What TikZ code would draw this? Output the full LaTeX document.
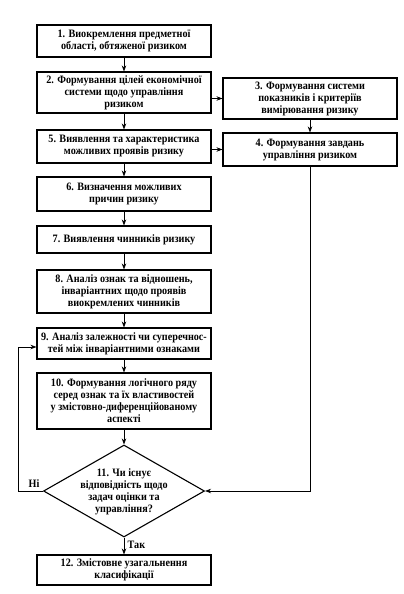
\documentclass[tikz,border=0pt]{standalone}
\usepackage{fontspec}
\setmainfont[FakeStretch=0.9]{Liberation Serif}
\usetikzlibrary{shapes.geometric,arrows.meta}
\begin{document}
\begin{tikzpicture}[x=1pt,y=-1pt,
  box/.style={draw,line width=1.1pt,minimum width=174pt,align=center,inner sep=1pt,
    font=\fontsize{11.3}{12}\selectfont\bfseries},
  arr/.style={line width=0.7pt,-{Stealth[length=6pt,width=4.5pt]}},
  lbl/.style={font=\fontsize{11.3}{12}\selectfont\bfseries}]
\useasboundingbox (0,0) rectangle (404,594);
\node[box,minimum height=32pt] (n1) at (124,41) {1. Виокремлення предметної\\області, обтяженої ризиком};
\node[box,minimum height=41pt] (n2) at (124,92.5) {2. Формування цілей економічної\\системи щодо управління\\ризиком};
\node[box,minimum height=41pt] (n3) at (310,98.5) {3. Формування системи\\показників і критеріїв\\вимірювання ризику};
\node[box,minimum height=33pt] (n5) at (124,146.5) {5. Виявлення та характеристика\\можливих проявів ризику};
\node[box,minimum height=33pt] (n4) at (310,149.5) {4. Формування завдань\\управління ризиком};
\node[box,minimum height=34pt] (n6) at (124,194) {6. Визначення можливих\\причин ризику};
\node[box,minimum height=27pt] (n7) at (124,239.5) {7. Виявлення чинників ризику};
\node[box,minimum height=43pt] (n8) at (124,291.5) {8. Аналіз ознак та відношень,\\інваріантних щодо проявів\\виокремлених чинників};
\node[box,minimum height=31pt] (n9) at (124,343.5) {9. Аналіз залежності чи суперечнос-\\тей між інваріантними ознаками};
\node[box,minimum height=56pt] (n10) at (124,401) {10. Формування логічного ряду\\серед ознак та їх властивостей\\у змістовно-диференційованому\\аспекті};
\node[diamond,draw,line width=1.1pt,minimum width=161pt,minimum height=92pt,inner sep=0pt] (d) at (124,491) {};
\node[lbl,align=center] (dt) at (124,492) {11. Чи існує\\відповідність щодо\\задач оцінки та\\управління?};
\node[box,minimum height=30pt] (n12) at (124,570) {12. Змістовне узагальнення\\класифікації};
\draw[arr] (n1) -- (n2);
\draw[arr] (n2) -- (n5);
\draw[arr] (n5) -- (n6);
\draw[arr] (n6) -- (n7);
\draw[arr] (n7) -- (n8);
\draw[arr] (n8) -- (n9);
\draw[arr] (n9) -- (n10);
\draw[arr] (n10) -- (d);
\draw[arr] (d) -- node[lbl,right,pos=0.45] (tak) {Так} (n12);
\draw[arr] (n2.east |- n3.west) -- (n3.west);
\draw[arr] (n5.east |- n4.west) -- (n4.west);
\draw[arr] (n3) -- (n4);
\draw[arr] (n4.south) |- (d.east);
\coordinate (fb) at (18,491);
\draw[arr] (d.west) -- (fb) |- ([yshift=-3.5pt]n9.west);
\node[lbl,above] (ni) at (34,491) {Ні};
\end{tikzpicture}
\end{document}
